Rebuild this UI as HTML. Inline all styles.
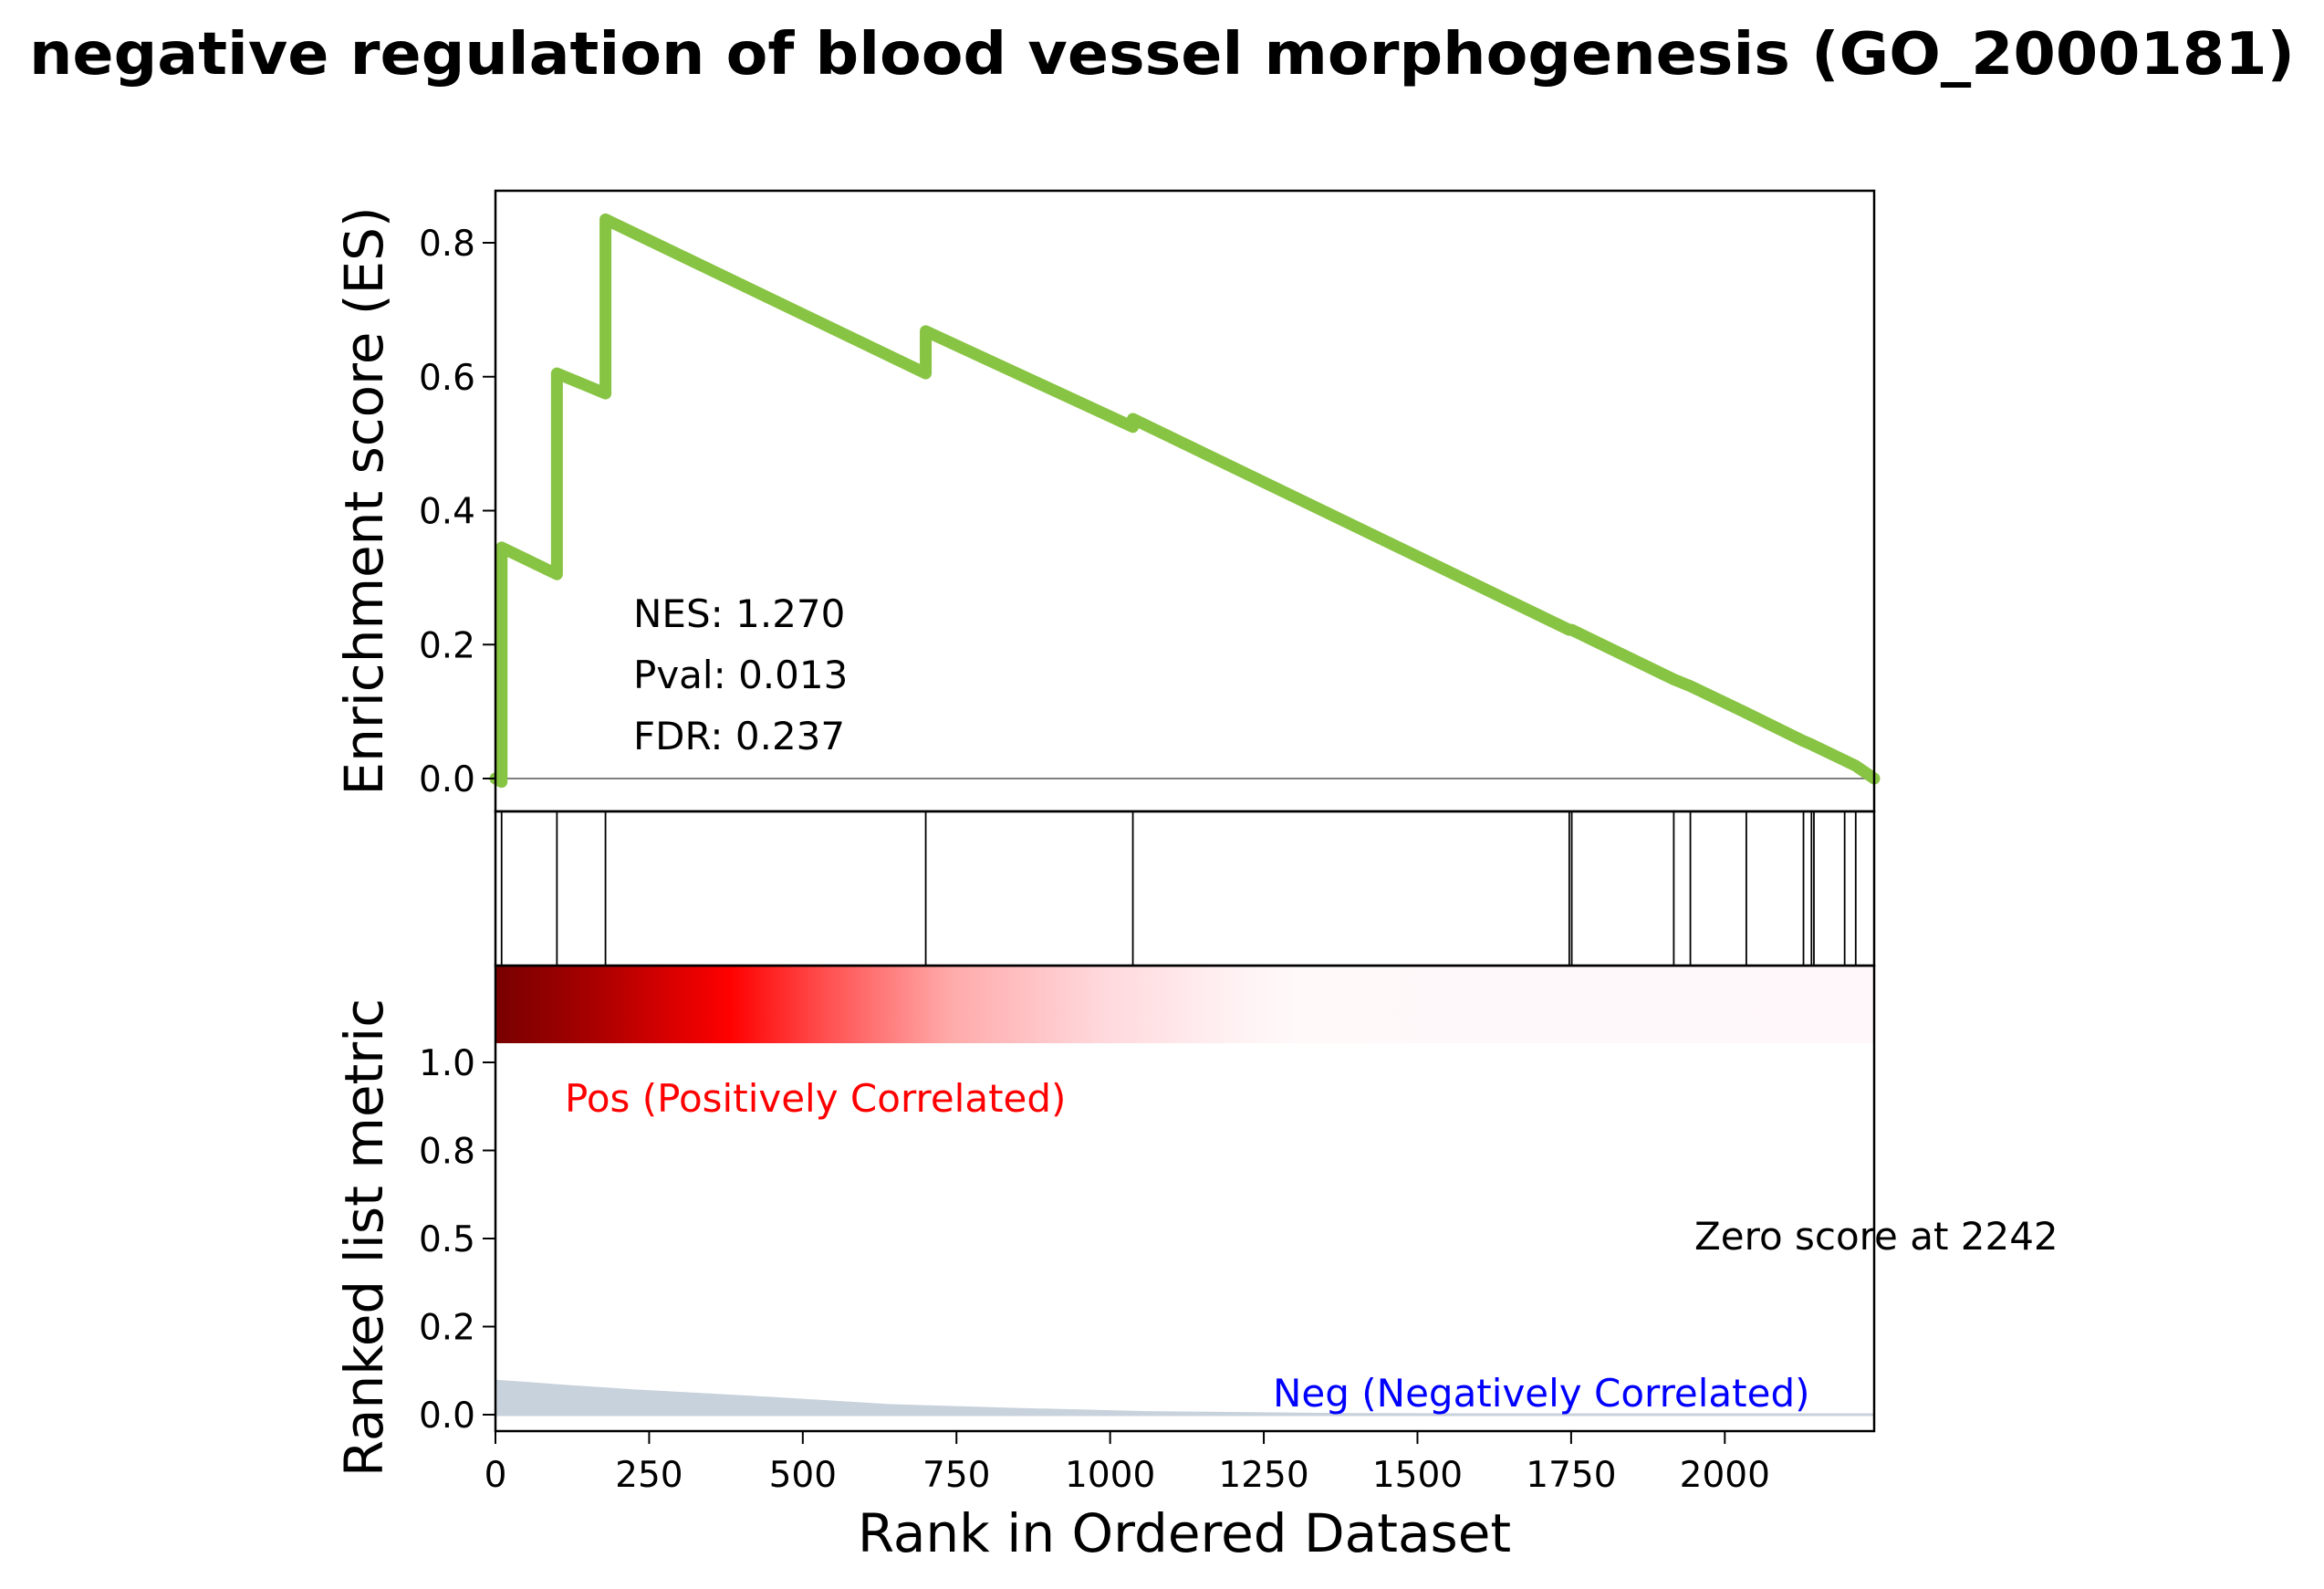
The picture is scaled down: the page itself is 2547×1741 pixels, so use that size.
<!DOCTYPE html>
<html><head><meta charset="utf-8"><style>html,body{margin:0;padding:0;background:#fff}svg{display:block}text{font-family:"DejaVu Sans","Liberation Sans",sans-serif}</style></head>
<body>
<svg id="chart" width="2547" height="1741" viewBox="0 0 2547 1741" xmlns="http://www.w3.org/2000/svg">
<defs>
<linearGradient id="hm" x1="0" x2="1" y1="0" y2="0">
<stop offset="0" stop-color="#780000"/><stop offset="0.07" stop-color="#a80000"/><stop offset="0.17" stop-color="#ff0000"/><stop offset="0.24" stop-color="#ff5050"/><stop offset="0.33" stop-color="#ffaaaa"/><stop offset="0.44" stop-color="#ffd8dc"/><stop offset="0.53" stop-color="#fff0f2"/><stop offset="0.58" stop-color="#fff9fa"/><stop offset="1" stop-color="#fff7fa"/>
</linearGradient>
</defs>
<text x="32" y="81" font-size="64" font-weight="bold" textLength="2483" lengthAdjust="spacingAndGlyphs">negative regulation of blood vessel morphogenesis (GO_2000181)</text>
<g id="g"></g>
</svg>
<script>
const esRanks = [0, 10, 10, 100, 100, 179, 179, 700, 700, 1037, 1037, 1747, 1751, 1917, 1944, 2035, 2128, 2141, 2145, 2195, 2213, 2243];
const esValues = [0, -0.005, 0.345, 0.305, 0.605, 0.575, 0.835, 0.605, 0.668, 0.525, 0.537, 0.222, 0.222, 0.148, 0.138, 0.098, 0.056, 0.051, 0.049, 0.027, 0.019, 0];
const hitRanks = [10, 100, 179, 700, 1037, 1747, 1751, 1917, 1944, 2035, 2128, 2141, 2145, 2195, 2213];
const metricRanks = [0, 60, 120, 225, 455, 640, 830, 1060, 1360, 1800, 2243];
const metricValues = [0.099, 0.092, 0.084, 0.072, 0.05, 0.03, 0.02, 0.01, 0.005, 0.003, 0.002];
const xTicks = [0, 250, 500, 750, 1000, 1250, 1500, 1750, 2000];
const esTicks = [0, 0.2, 0.4, 0.6, 0.8];
const esTickLabels = ["0.0", "0.2", "0.4", "0.6", "0.8"];
const metricTicks = [0, 0.25, 0.5, 0.75, 1.0];
const metricTickLabels = ["0.0", "0.2", "0.5", "0.8", "1.0"];

const NS = "http://www.w3.org/2000/svg";
const g = document.getElementById('g');
const L = 543, R = 2054, XMAX = 2243;
const X = v => L + (v / XMAX) * (R - L);
const YES = v => 853 - v * 733.75;
const YM = v => 1550 - v * 386;
function mk(tag, attrs, text) {
  const e = document.createElementNS(NS, tag);
  for (const k in attrs) e.setAttribute(k, attrs[k]);
  if (text !== undefined) e.textContent = text;
  g.appendChild(e);
  return e;
}
let e;
e = mk('rect', {x: L, y: 1058, width: R - L, height: 85, fill: 'url(#hm)'});


let d = 'M' + X(metricRanks[0]) + ',' + YM(0);
metricRanks.forEach((r, i) => { d += ' L' + X(r) + ',' + YM(metricValues[i]); });
d += ' L' + X(metricRanks[metricRanks.length - 1]) + ',' + YM(0) + ' Z';
e = mk('path', {d: d, fill: '#c8d2dc'});


e = mk('line', {x1: L, x2: R, y1: YM(0), y2: YM(0), stroke: '#c8d2dc', 'stroke-width': 3});


e = mk('line', {x1: L, x2: R, y1: YES(0), y2: YES(0), stroke: '#808080', 'stroke-width': 2});


const pts = esRanks.map((r, i) => X(r) + ',' + YES(esValues[i])).join(' ');
e = mk('polyline', {points: pts, fill: 'none', stroke: '#88c443', 'stroke-width': 13, 'stroke-linejoin': 'round', 'stroke-linecap': 'round'});


hitRanks.forEach(r => {
  const h = mk('line', {x1: X(r), x2: X(r), y1: 889, y2: 1058, stroke: '#000', 'stroke-width': 1.8});
  
  
});
[[209, 889, 'es-panel-frame'], [889, 1058, 'hits-panel-frame'], [1058, 1568, 'metric-panel-frame']].forEach(f => {
  const r = mk('rect', {x: L, y: f[0], width: R - L, height: f[1] - f[0], fill: 'none', stroke: '#000', 'stroke-width': 2.5});
  
  
});
esTicks.forEach((v, i) => {
  const t = mk('line', {x1: L - 14, x2: L, y1: YES(v), y2: YES(v), stroke: '#000', 'stroke-width': 2});
  
  
  const l = mk('text', {x: L - 22, y: YES(v) + 14, 'font-size': 39, 'text-anchor': 'end'}, esTickLabels[i]);
  
  
});
metricTicks.forEach((v, i) => {
  const t = mk('line', {x1: L - 14, x2: L, y1: YM(v), y2: YM(v), stroke: '#000', 'stroke-width': 2});
  
  
  const l = mk('text', {x: L - 22, y: YM(v) + 14, 'font-size': 39, 'text-anchor': 'end'}, metricTickLabels[i]);
  
  
});
xTicks.forEach(v => {
  const t = mk('line', {x1: X(v), x2: X(v), y1: 1568, y2: 1582, stroke: '#000', 'stroke-width': 2});
  
  
  const l = mk('text', {x: X(v), y: 1629, 'font-size': 39, 'text-anchor': 'middle'}, String(v));
  
  
});
e = mk('text', {x: 1298, y: 1700, 'font-size': 58, 'text-anchor': 'middle'}, 'Rank in Ordered Dataset');


e = mk('text', {transform: 'translate(419,549) rotate(-90)', 'font-size': 58, 'text-anchor': 'middle'}, 'Enrichment score (ES)');


e = mk('text', {transform: 'translate(419,1356) rotate(-90)', 'font-size': 58, 'text-anchor': 'middle'}, 'Ranked list metric');


e = mk('text', {x: 694, y: 687, 'font-size': 42}, 'NES: 1.270');


e = mk('text', {x: 694, y: 754, 'font-size': 42}, 'Pval: 0.013');


e = mk('text', {x: 694, y: 821, 'font-size': 42}, 'FDR: 0.237');


e = mk('text', {x: 619, y: 1218, 'font-size': 42, fill: '#ff0000'}, 'Pos (Positively Correlated)');


e = mk('text', {x: 1395, y: 1541, 'font-size': 42, fill: '#0000ff'}, 'Neg (Negatively Correlated)');


e = mk('text', {x: 1857, y: 1369, 'font-size': 42}, 'Zero score at 2242');


</script>
</body></html>
